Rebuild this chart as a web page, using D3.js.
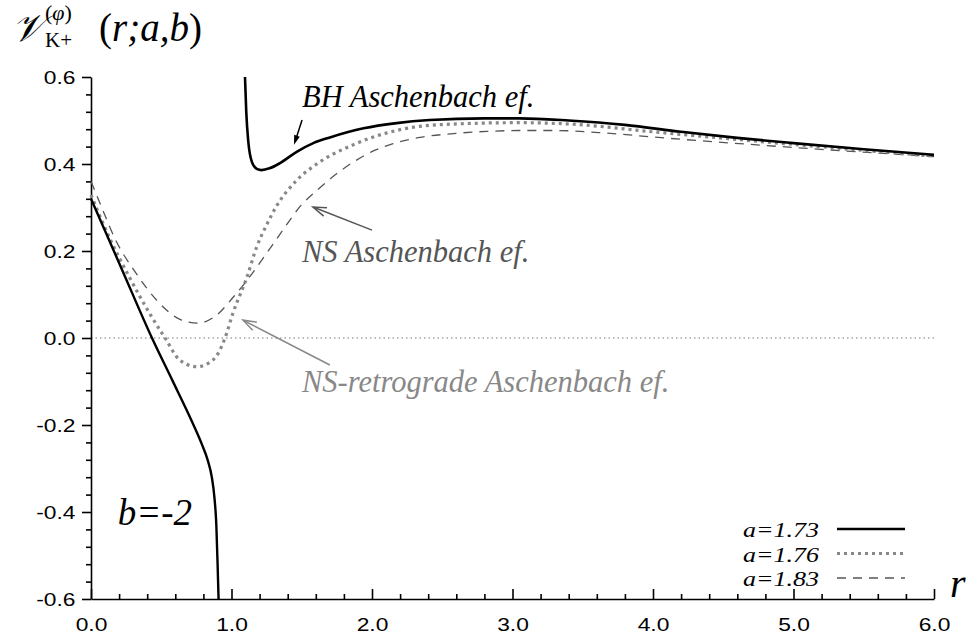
<!DOCTYPE html>
<html>
<head>
<meta charset="utf-8">
<script src="https://cdn.jsdelivr.net/npm/d3@7"></script>
<style>
  body { margin: 0; background: #fff; }
  svg { display: block; }
</style>
</head>
<body>
<svg id="chart" width="971" height="643"></svg>
<script>
// ---------- data ----------
const xTickLabels = ["0.0", "1.0", "2.0", "3.0", "4.0", "5.0", "6.0"];
const yTickLabels = ["-0.6", "-0.4", "-0.2", "0.0", "0.2", "0.4", "0.6"];

// a = 1.73, inner branch
const rA173in = [0, 0.217, 0.434, 0.58, 0.72, 0.79, 0.83, 0.86, 0.878, 0.892, 0.901, 0.908];
const vA173in = [0.320, 0.160, 0.0, -0.098, -0.193, -0.245, -0.280, -0.320, -0.365, -0.43, -0.52, -0.60];
// a = 1.73, outer (BH) branch
const rA173out = [1.096, 1.105, 1.12, 1.145, 1.18, 1.215, 1.27, 1.345, 1.464, 1.582, 1.70, 1.94, 2.175, 2.41, 2.80, 3.05, 3.40, 3.80, 4.20, 4.60, 5.00, 5.50, 6.00];
const vA173out = [0.60, 0.52, 0.45, 0.405, 0.389, 0.386, 0.390, 0.402, 0.428, 0.448, 0.461, 0.482, 0.494, 0.501, 0.505, 0.505, 0.500, 0.490, 0.474, 0.460, 0.448, 0.434, 0.421];
// a = 1.76
const rA176 = [0, 0.135, 0.278, 0.42, 0.527, 0.633, 0.754, 0.87, 0.954, 1.01, 1.11, 1.18, 1.25, 1.32, 1.466, 1.63, 1.865, 2.1, 2.46, 3.05, 3.4, 4.0, 5.0, 6.0];
const vA176 = [0.329, 0.228, 0.137, 0.055, 0.0, -0.051, -0.066, -0.05, 0.0, 0.057, 0.14, 0.21, 0.26, 0.303, 0.363, 0.405, 0.444, 0.471, 0.49, 0.495, 0.492, 0.474, 0.445, 0.418];
// a = 1.83
const rA183 = [0, 0.064, 0.171, 0.325, 0.47, 0.633, 0.76, 0.895, 1.01, 1.13, 1.25, 1.37, 1.49, 1.61, 1.75, 1.89, 2.01, 2.15, 2.34, 2.58, 2.82, 3.05, 3.3, 3.67, 4.0, 5.0, 6.0];
const vA183 = [0.36, 0.31, 0.228, 0.147, 0.086, 0.043, 0.034, 0.053, 0.093, 0.141, 0.195, 0.25, 0.303, 0.34, 0.378, 0.409, 0.430, 0.447, 0.461, 0.470, 0.475, 0.477, 0.477, 0.471, 0.462, 0.438, 0.417];

const legendLabels = ["a=1.73", "a=1.76", "a=1.83"];

// ---------- layout ----------
const svg = d3.select("#chart");
const x = d3.scaleLinear().domain([0, 6]).range([91, 934]);
const y = d3.scaleLinear().domain([-0.6, 0.6]).range([599, 77]);

const sansFont = "'Liberation Sans', Arial, sans-serif";
const serifFont = "'Liberation Serif'";

// zero reference line
svg.append("line")
  .attr("x1", x(0)).attr("x2", x(6))
  .attr("y1", y(0)).attr("y2", y(0))
  .attr("stroke", "#777").attr("stroke-width", 1)
  .attr("stroke-dasharray", "1.5,3");

// ---------- axes ----------
const yMajor = yTickLabels.map(Number);
const yMinor = d3.range(-0.6, 0.6001, 0.04).filter(v => !yMajor.some(m => Math.abs(m - v) < 1e-6));
const xMajor = xTickLabels.map(Number);
const xMinor = d3.range(0, 6.0001, 0.2).filter(v => !xMajor.some(m => Math.abs(m - v) < 1e-6));

const yAxisG = svg.append("g").attr("transform", `translate(${x(0)},0)`);
yAxisG.call(d3.axisLeft(y).tickValues(yMinor).tickSize(5).tickFormat(""));
yAxisG.call(g => g.select(".domain").remove());
const yAxisMajor = svg.append("g").attr("transform", `translate(${x(0)},0)`)
  .call(d3.axisLeft(y).tickValues(yMajor).tickSize(9).tickPadding(4)
    .tickFormat((d, i) => yTickLabels[i]).tickSizeOuter(0));

const xAxisG = svg.append("g").attr("transform", `translate(0,${y(-0.6)})`);
xAxisG.call(d3.axisBottom(x).tickValues(xMinor).tickSize(-5).tickFormat(""));
xAxisG.call(g => g.select(".domain").remove());
const xAxisMajor = svg.append("g").attr("transform", `translate(0,${y(-0.6)})`)
  .call(d3.axisBottom(x).tickValues(xMajor).tickSize(-10).tickPadding(19)
    .tickFormat((d, i) => xTickLabels[i]).tickSizeOuter(0));

svg.selectAll(".tick line").attr("stroke", "#000").attr("stroke-width", 1.6);
svg.selectAll(".domain").attr("stroke", "#000").attr("stroke-width", 1.6);
svg.selectAll(".tick text")
  .attr("font-family", sansFont).attr("font-size", 19).attr("fill", "#000");
yAxisMajor.selectAll(".tick text").attr("transform", "scale(1.2,1)");
xAxisMajor.selectAll(".tick text").attr("transform", "scale(1.2,1)").attr("dy", "0.71em");

// ---------- curves ----------
const line = d3.line().x(d => x(d[0])).y(d => y(d[1])).curve(d3.curveMonotoneX);
const zip = (a, b) => a.map((v, i) => [v, b[i]]);

const plot = svg.append("g");
plot.append("path").datum(zip(rA183, vA183)).attr("d", line)
  .attr("fill", "none").attr("stroke", "#555").attr("stroke-width", 1.3)
  .attr("stroke-dasharray", "9,7");
plot.append("path").datum(zip(rA176, vA176)).attr("d", line)
  .attr("fill", "none").attr("stroke", "#888").attr("stroke-width", 3.2)
  .attr("stroke-dasharray", "3,4");
plot.append("path").datum(zip(rA173in, vA173in)).attr("d", line)
  .attr("fill", "none").attr("stroke", "#000").attr("stroke-width", 2.4);
plot.append("path").datum(zip(rA173out, vA173out)).attr("d", line)
  .attr("fill", "none").attr("stroke", "#000").attr("stroke-width", 2.6);

// ---------- annotations ----------
function arrow(r0, v0, r1, v1, color, width, filled) {
  const x0 = x(r0), y0 = y(v0), x1 = x(r1), y1 = y(v1);
  const ang = Math.atan2(y1 - y0, x1 - x0);
  const L = filled ? 10 : 14, spread = filled ? 0.3 : 0.33;
  const p1 = [x1 - L * Math.cos(ang - spread), y1 - L * Math.sin(ang - spread)];
  const p2 = [x1 - L * Math.cos(ang + spread), y1 - L * Math.sin(ang + spread)];
  if (filled) {
    svg.append("line").attr("x1", x0).attr("y1", y0).attr("x2", x1 - 6 * Math.cos(ang)).attr("y2", y1 - 6 * Math.sin(ang))
      .attr("stroke", color).attr("stroke-width", width);
    svg.append("path").attr("d", `M${x1},${y1}L${p1[0]},${p1[1]}L${p2[0]},${p2[1]}Z`).attr("fill", color);
  } else {
    svg.append("line").attr("x1", x0).attr("y1", y0).attr("x2", x1).attr("y2", y1)
      .attr("stroke", color).attr("stroke-width", width);
    svg.append("path").attr("d", `M${p1[0]},${p1[1]}L${x1},${y1}L${p2[0]},${p2[1]}`)
      .attr("fill", "none").attr("stroke", color).attr("stroke-width", width);
  }
}
arrow(1.502, 0.501, 1.445, 0.444, "#000", 1.5, true);
arrow(2.0, 0.248, 1.58, 0.301, "#555", 1.5, false);
arrow(1.70, -0.062, 1.082, 0.041, "#888", 1.5, false);

function label(r, v, txt, color, size) {
  svg.append("text").attr("x", x(r)).attr("y", y(v)).text(txt)
    .attr("font-family", serifFont).attr("font-style", "italic")
    .attr("font-size", size).attr("fill", color);
}
label(1.502, 0.531, "BH Aschenbach ef.", "#000", 30.5);
label(1.502, 0.175, "NS Aschenbach ef.", "#555", 30.5);
label(1.502, -0.124, "NS-retrograde Aschenbach ef.", "#888", 30.5);
label(0.19, -0.430, "b=-2", "#000", 37);

// axis label r
svg.append("text").attr("x", x(6) + 16).attr("y", y(-0.6) - 2).text("r")
  .attr("font-family", serifFont).attr("font-style", "italic").attr("font-size", 40).attr("fill", "#000");

// ---------- legend ----------
const legendStyles = [
  { stroke: "#000", width: 2.6, dash: null },
  { stroke: "#888", width: 3.2, dash: "3,4" },
  { stroke: "#555", width: 1.3, dash: "9,7" }
];
const legend = svg.append("g").attr("transform", "translate(743,537)");
legendLabels.forEach((lab, i) => {
  const g = legend.append("g").attr("transform", `translate(0,${i * 24.5})`);
  g.append("text").text(lab).attr("x", 0).attr("y", 0)
    .attr("transform", "scale(1.18,1)")
    .attr("font-family", serifFont).attr("font-style", "italic").attr("font-size", 22).attr("fill", "#000");
  const ln = g.append("line").attr("x1", 94).attr("x2", 162).attr("y1", -8).attr("y2", -8)
    .attr("stroke", legendStyles[i].stroke).attr("stroke-width", legendStyles[i].width);
  if (legendStyles[i].dash) ln.attr("stroke-dasharray", legendStyles[i].dash);
});

// ---------- title ----------
const vSym = svg.append("text").attr("x", 12).attr("y", 41)
  .attr("font-size", 38).attr("font-style", "italic")
  .attr("font-family", "'DejaVu Serif', 'DejaVu Sans', serif")
  .attr("fill", "#000").text("𝒱");
const vEnd = 12 + vSym.node().getComputedTextLength();
const idxX = Math.max(43, vEnd + 1);
const sup = svg.append("text").attr("x", idxX).attr("y", 20)
  .attr("font-family", serifFont).attr("font-size", 22).attr("fill", "#000");
sup.append("tspan").text("(");
sup.append("tspan").attr("font-style", "italic").text("φ");
sup.append("tspan").text(")");
svg.append("text").attr("x", idxX).attr("y", 47)
  .attr("font-family", serifFont).attr("font-size", 21).attr("fill", "#000").text("K+");
const args = svg.append("text").attr("x", Math.max(97, idxX + 54)).attr("y", 41)
  .attr("font-family", serifFont).attr("font-size", 39).attr("fill", "#000");
args.append("tspan").text("(");
args.append("tspan").attr("font-style", "italic").text("r;a,b");
args.append("tspan").text(")");
</script>
</body>
</html>
